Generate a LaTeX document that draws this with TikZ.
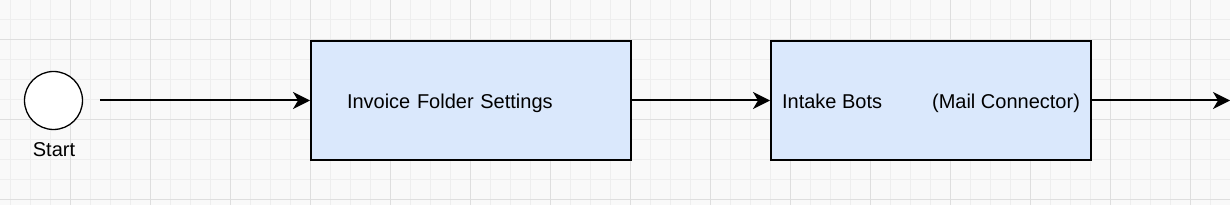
\documentclass[tikz,border=0pt]{standalone}
\usepackage{fontspec}
\setmainfont{Liberation Sans}
\usepackage{xcolor}
\usepackage{tikz}
\usetikzlibrary{arrows.meta,positioning}
\definecolor{gridbg}{HTML}{F9F9F9}
\definecolor{gridminor}{HTML}{EEEEEE}
\definecolor{gridmajor}{HTML}{DEDEDE}
\definecolor{boxblue}{HTML}{DAE8FC}

\begin{document}
\begin{tikzpicture}[x=1pt,y=-1pt,every node/.style={font=\fontsize{20}{24}\selectfont},
  procbox/.style={draw,line width=2pt,fill=boxblue,minimum width=320pt,minimum height=119pt,
    text height=18pt,text depth=2.4pt},
  startev/.style={circle,draw,line width=1.3pt,fill=white,minimum size=58pt,inner sep=0pt},
  flow/.style={line width=2pt,-{Stealth[length=17pt,width=17pt,inset=5pt]}}]
  \useasboundingbox (0,0) rectangle (1230,205);
  % grid paper
  \fill[gridbg] (0,0) rectangle (1230,205);
  \foreach \x in {10,30,...,1230} \draw[gridminor,line width=1pt] (\x,0) -- (\x,205);
  \foreach \y in {0,20,...,200} \draw[gridminor,line width=1pt] (0,\y) -- (1230,\y);
  \foreach \x in {70,150,...,1230} \draw[gridmajor,line width=1pt] (\x,0) -- (\x,205);
  \foreach \y in {40,120,200} \draw[gridmajor,line width=1pt] (0,\y) -- (1230,\y);
  % nodes
  \node[startev] (start) at (53.5,100.5) {};
  \node at (54,150) (startlbl) {Start};
  \node[procbox,text width=248pt,inner xsep=36pt,align=left] (folder) at (471,100.5) {Invoice Folder Settings};
  \node[procbox] (intake) at (931,100.5) {Intake Bots\hspace{50pt}(Mail Connector)};
  \coordinate (exit) at (1230,100.5);
  % flow
  \draw[flow,shorten <=17pt] (start.east) -- (folder.west);
  \draw[flow] (folder.east) -- (intake.west);
  \draw[flow] (intake.east) -- (exit);
\end{tikzpicture}
\end{document}
